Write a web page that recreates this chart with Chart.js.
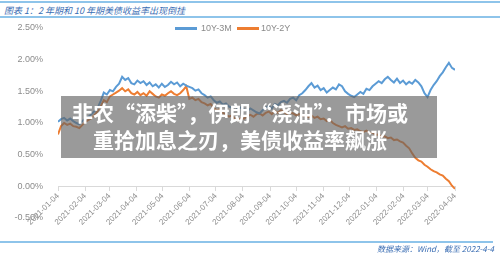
<!DOCTYPE html>
<html>
<head>
<meta charset="utf-8">
<script src="https://cdn.jsdelivr.net/npm/chart.js@4/dist/chart.umd.min.js"></script>
<style>
  body { margin: 0; width: 500px; height: 256px; background: #fff; position: relative; overflow: hidden; font-family: "Liberation Sans", sans-serif; }
  #myChart { position: absolute; left: 0; top: 0; }
  .rule { position: absolute; left: 0; height: 1.5px; background: #8ec4ea; }
  .title { position: absolute; left: 4px; top: 4px; font: italic 9px "Noto Sans CJK SC"; color: #3a6db3; white-space: pre; }
  .source { position: absolute; right: 6px; top: 243px; font: italic 8px "Noto Sans CJK SC"; color: #3a6db3; white-space: pre; }
  .legend { position: absolute; top: 23px; font-size: 9px; color: #8a8a8a; }
  .legend span.sw { position: absolute; top: 4px; height: 2.5px; width: 22px; }
  .legend span.tx { position: absolute; top: 0; white-space: nowrap; }
  .overlay { position: absolute; left: 61px; top: 96px; width: 376px; height: 62px; background: rgba(100,100,100,0.65); }
  .overlay div { position: absolute; left: 0; width: 358px; text-align: center; color: #fff; font: bold 21px "Noto Sans CJK SC"; white-space: nowrap; }
</style>
</head>
<body>
<div class="rule" style="top:1px;width:500px"></div>
<div class="title">图表 1：2 年期和 10 年期美债收益率出现倒挂</div>
<div class="rule" style="top:16px;width:500px"></div>
<canvas id="myChart" width="500" height="256"></canvas>
<div class="legend" style="left:175px"><span class="sw" style="left:0;background:#5b9bd5"></span><span class="tx" style="left:26px">10Y-3M</span></div>
<div class="legend" style="left:237px"><span class="sw" style="left:0;background:#ed7d31"></span><span class="tx" style="left:24px">10Y-2Y</span></div>
<div class="overlay">
  <div style="top:1px">非农“添柴”，伊朗“浇油”：市场或</div>
  <div style="top:28px">重拾加息之刃，美债收益率飙涨</div>
</div>
<div class="rule" style="top:241px;width:493px"></div>
<div class="source">数据来源：Wind，截至 2022-4-4</div>
<script>
// month ticks, in days after 2021-01-04
const monthDays = [0, 31, 59, 90, 120, 151, 181, 212, 243, 273, 304, 334, 365, 396, 424, 455];
const monthLabels = ['2021-01-04', '2021-02-04', '2021-03-04', '2021-04-04', '2021-05-04', '2021-06-04',
  '2021-07-04', '2021-08-04', '2021-09-04', '2021-10-04', '2021-11-04', '2021-12-04',
  '2022-01-04', '2022-02-04', '2022-03-04', '2022-04-04'];

// spreads in %, sampled about twice a week
const spread10y3m = [1.02, 1.06, 1.08, 1.04, 1.07, 1.03, 1.00, 0.98, 1.03, 1.07, 1.10, 1.14, 1.19, 1.24, 1.35, 1.48,
  1.45, 1.52, 1.50, 1.57, 1.62, 1.73, 1.68, 1.71, 1.63, 1.61, 1.67, 1.63, 1.66, 1.60, 1.64, 1.58,
  1.61, 1.56, 1.62, 1.57, 1.60, 1.65, 1.61, 1.64, 1.58, 1.62, 1.59, 1.57, 1.55, 1.51, 1.53, 1.47,
  1.44, 1.40, 1.42, 1.36, 1.32, 1.34, 1.29, 1.31, 1.26, 1.24, 1.27, 1.22, 1.25, 1.21, 1.19, 1.23,
  1.20, 1.17, 1.15, 1.20, 1.24, 1.27, 1.23, 1.30, 1.28, 1.33, 1.35, 1.32, 1.38, 1.40, 1.36, 1.44,
  1.47, 1.52, 1.58, 1.63, 1.56, 1.59, 1.52, 1.55, 1.48, 1.52, 1.56, 1.53, 1.61, 1.58, 1.50, 1.46,
  1.43, 1.41, 1.45, 1.49, 1.46, 1.54, 1.52, 1.58, 1.62, 1.66, 1.63, 1.69, 1.73, 1.68, 1.64, 1.70,
  1.63, 1.67, 1.61, 1.65, 1.62, 1.68, 1.64, 1.58, 1.47, 1.41, 1.52, 1.60, 1.66, 1.74, 1.80, 1.88,
  1.95, 1.87, 1.84];
const spread10y2y = [0.82, 0.95, 1.00, 0.97, 0.99, 0.95, 0.94, 0.92, 0.97, 1.02, 1.05, 1.08, 1.13, 1.19, 1.27, 1.36,
  1.33, 1.42, 1.45, 1.48, 1.51, 1.55, 1.50, 1.53, 1.47, 1.45, 1.49, 1.44, 1.47, 1.43, 1.50, 1.46,
  1.42, 1.40, 1.45, 1.43, 1.47, 1.50, 1.46, 1.44, 1.47, 1.52, 1.58, 1.38, 1.40, 1.36, 1.38, 1.33,
  1.31, 1.28, 1.30, 1.24, 1.20, 1.22, 1.16, 1.13, 1.10, 1.12, 1.06, 1.04, 1.08, 1.07, 1.11, 1.13,
  1.10, 1.14, 1.15, 1.12, 1.16, 1.18, 1.14, 1.19, 1.16, 1.20, 1.17, 1.14, 1.17, 1.15, 1.12, 1.14,
  1.11, 1.13, 1.09, 1.12, 1.08, 1.10, 1.06, 1.07, 1.03, 1.05, 1.00, 0.97, 0.95, 0.93, 0.95, 0.91,
  0.92, 0.89, 0.90, 0.87, 0.86, 0.88, 0.84, 0.85, 0.81, 0.82, 0.78, 0.79, 0.76, 0.77, 0.73, 0.74,
  0.71, 0.69, 0.64, 0.60, 0.52, 0.45, 0.41, 0.39, 0.34, 0.31, 0.27, 0.24, 0.22, 0.19, 0.17, 0.12,
  0.08, 0.01, -0.04];

function toPoints(arr) {
  const step = 455 / (arr.length - 1);
  return arr.map((v, i) => ({ x: i * step, y: v }));
}

const ctx = document.getElementById('myChart').getContext('2d');
new Chart(ctx, {
  type: 'line',
  data: {
    datasets: [
      { label: '10Y-3M', data: toPoints(spread10y3m), borderColor: '#5b9bd5', borderWidth: 2, pointRadius: 0, tension: 0 },
      { label: '10Y-2Y', data: toPoints(spread10y2y), borderColor: '#ed7d31', borderWidth: 2, pointRadius: 0, tension: 0 },
    ],
  },
  options: {
    responsive: false,
    animation: false,
    layout: { padding: { left: 0, right: 45, top: 28, bottom: 38 } },
    plugins: { legend: { display: false }, tooltip: { enabled: false } },
    scales: {
      x: {
        type: 'linear',
        min: 0,
        max: 455,
        position: { y: 0 },
        afterBuildTicks: (s) => { s.ticks = monthDays.map(v => ({ value: v })); },
        ticks: {
          autoSkip: false,
          minRotation: 45,
          maxRotation: 45,
          padding: 1,
          color: '#8c8c8c',
          font: { size: 8, family: 'Liberation Sans' },
          callback: (v) => monthLabels[monthDays.indexOf(v)],
        },
        grid: { drawOnChartArea: false, tickLength: 4, color: '#d9d9d9' },
        border: { color: '#d9d9d9' },
      },
      y: {
        min: -0.5,
        max: 2.5,
        afterFit: (s) => { s.width = 58; },
        ticks: {
          stepSize: 0.5,
          padding: 7,
          color: '#8c8c8c',
          font: { size: 9, family: 'Liberation Sans' },
          callback: (v) => v.toFixed(2) + '%',
        },
        grid: { display: false },
        border: { display: false },
      },
    },
  },
});
</script>
</body>
</html>
